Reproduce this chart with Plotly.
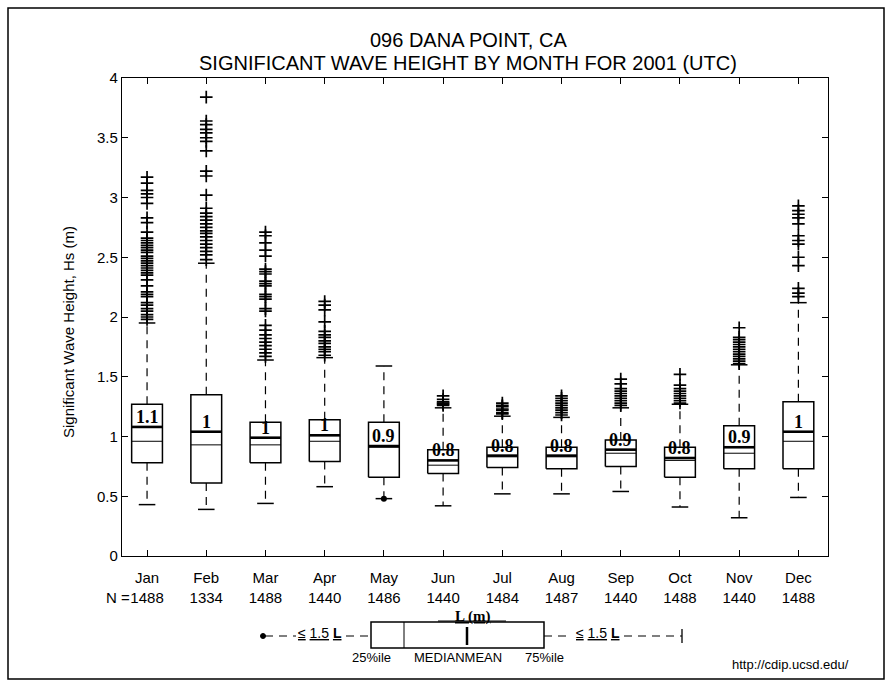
import plotly.graph_objects as go

# ---------------- data ----------------
months = ["Jan", "Feb", "Mar", "Apr", "May", "Jun", "Jul", "Aug", "Sep", "Oct", "Nov", "Dec"]
n_obs = [1488, 1334, 1488, 1440, 1486, 1440, 1484, 1487, 1440, 1488, 1440, 1488]
q1 = [0.78, 0.61, 0.78, 0.79, 0.66, 0.69, 0.74, 0.73, 0.75, 0.66, 0.73, 0.73]
median = [0.96, 0.93, 0.93, 0.96, 0.91, 0.76, 0.83, 0.83, 0.86, 0.80, 0.86, 0.96]
q3 = [1.27, 1.35, 1.12, 1.14, 1.12, 0.89, 0.91, 0.91, 0.97, 0.91, 1.09, 1.29]
mean = [1.08, 1.04, 0.99, 1.01, 0.92, 0.80, 0.84, 0.84, 0.89, 0.82, 0.91, 1.04]
lower_whisker = [0.43, 0.39, 0.44, 0.58, 0.48, 0.42, 0.52, 0.52, 0.54, 0.41, 0.32, 0.49]
upper_whisker = [1.95, 2.45, 1.64, 1.66, 1.59, 1.24, 1.17, 1.16, 1.24, 1.27, 1.60, 2.12]
low_point = [None, None, None, None, 0.48, None, None, None, None, None, None, None]

outliers_jan = [3.17, 3.12, 3.06, 3.03, 3.00, 2.95, 2.83, 2.79, 2.71, 2.66, 2.64, 2.62, 2.60, 2.58,
                2.56, 2.54, 2.51, 2.49, 2.47, 2.45, 2.43, 2.41, 2.39, 2.37, 2.35, 2.31, 2.26, 2.21,
                2.19, 2.17, 2.12, 2.10, 2.07, 2.05, 2.02, 2.00, 1.98]
outliers_feb = [3.84, 3.64, 3.61, 3.57, 3.54, 3.50, 3.47, 3.39, 3.22, 3.18, 3.02, 2.91, 2.87, 2.84,
                2.81, 2.78, 2.75, 2.72, 2.70, 2.67, 2.64, 2.61, 2.58, 2.55, 2.52, 2.48]
outliers_mar = [2.71, 2.68, 2.62, 2.56, 2.51, 2.40, 2.38, 2.36, 2.30, 2.28, 2.26, 2.19, 2.17, 2.15,
                2.07, 2.05, 1.93, 1.89, 1.85, 1.82, 1.79, 1.76, 1.73, 1.70, 1.67]
outliers_apr = [2.13, 2.10, 2.06, 1.96, 1.88, 1.85, 1.83, 1.80, 1.78, 1.75, 1.73, 1.71, 1.68]
outliers_may = []
outliers_jun = [1.34, 1.31, 1.29, 1.28, 1.27, 1.26]
outliers_jul = [1.28, 1.26, 1.25, 1.23, 1.22, 1.20, 1.19]
outliers_aug = [1.34, 1.32, 1.30, 1.28, 1.26, 1.24, 1.22, 1.20, 1.18]
outliers_sep = [1.48, 1.44, 1.40, 1.38, 1.36, 1.34, 1.32, 1.30, 1.28, 1.26]
outliers_oct = [1.52, 1.43, 1.40, 1.38, 1.36, 1.34, 1.32, 1.30, 1.28]
outliers_nov = [1.91, 1.83, 1.81, 1.79, 1.77, 1.75, 1.73, 1.71, 1.69, 1.67, 1.65, 1.63, 1.61]
outliers_dec = [2.93, 2.89, 2.86, 2.83, 2.78, 2.68, 2.64, 2.61, 2.50, 2.43, 2.24, 2.20, 2.17]
outliers = [outliers_jan, outliers_feb, outliers_mar, outliers_apr, outliers_may, outliers_jun,
            outliers_jul, outliers_aug, outliers_sep, outliers_oct, outliers_nov, outliers_dec]

title_line1 = "096 DANA POINT, CA"
title_line2 = "SIGNIFICANT WAVE HEIGHT BY MONTH FOR 2001 (UTC)"
y_title = "Significant Wave Height, Hs (m)"
url_text = "http://cdip.ucsd.edu/"

# ---------------- geometry / style ----------------
W, H = 892, 685
ML, MR, MT, MB = 122, 64, 78, 129
PW, PH = W - ML - MR, H - MT - MB
BOX_HALF = 0.26
CAP_HALF = 0.14
SANS = "Liberation Sans, Arial, sans-serif"
SERIF = "Liberation Serif, Times New Roman, serif"


def PX(x):
    return (x - ML) / PW


def PY(y):
    return (H - MB - y) / PH


xpos = list(range(1, len(months) + 1))

# build line paths from the data arrays
bx, by, mdx, mdy, mnx, mny, wx, wy, cx, cy = [], [], [], [], [], [], [], [], [], []
for i, x in enumerate(xpos):
    bx += [x - BOX_HALF, x + BOX_HALF, x + BOX_HALF, x - BOX_HALF, x - BOX_HALF, None]
    by += [q1[i], q1[i], q3[i], q3[i], q1[i], None]
    mdx += [x - BOX_HALF, x + BOX_HALF, None]
    mdy += [median[i], median[i], None]
    mnx += [x - BOX_HALF, x + BOX_HALF, None]
    mny += [mean[i], mean[i], None]
    wx += [x, x, None, x, x, None]
    wy += [q3[i], upper_whisker[i], None, q1[i], lower_whisker[i], None]
    cx += [x - CAP_HALF, x + CAP_HALF, None, x - CAP_HALF, x + CAP_HALF, None]
    cy += [upper_whisker[i], upper_whisker[i], None, lower_whisker[i], lower_whisker[i], None]

ox, oy = [], []
for i, vals in enumerate(outliers):
    ox += [xpos[i]] * len(vals)
    oy += vals

fig = go.Figure()
fig.add_trace(go.Scatter(x=wx, y=wy, mode="lines", line=dict(color="black", width=1.2, dash="8px,6px"),
                         hoverinfo="skip", showlegend=False))
fig.add_trace(go.Scatter(x=cx, y=cy, mode="lines", line=dict(color="black", width=1.5),
                         hoverinfo="skip", showlegend=False))
fig.add_trace(go.Scatter(x=bx, y=by, mode="lines", line=dict(color="black", width=1.5),
                         hoverinfo="skip", showlegend=False))
fig.add_trace(go.Scatter(x=mdx, y=mdy, mode="lines", line=dict(color="black", width=1),
                         hoverinfo="skip", showlegend=False))
fig.add_trace(go.Scatter(x=mnx, y=mny, mode="lines", line=dict(color="black", width=2.6),
                         hoverinfo="skip", showlegend=False))
fig.add_trace(go.Scatter(x=ox, y=oy, mode="markers",
                         marker=dict(symbol="cross-thin", size=9, line=dict(color="black", width=1.7)),
                         hoverinfo="skip", showlegend=False))
fig.add_trace(go.Scatter(x=xpos, y=low_point, mode="markers",
                         marker=dict(symbol="circle", size=6, color="black"),
                         hoverinfo="skip", showlegend=False))

annotations = []
# mean labels
for i, x in enumerate(xpos):
    lab = f"{mean[i]:.1f}"
    if lab.endswith(".0"):
        lab = lab[:-2]
    annotations.append(dict(x=x, y=mean[i], xref="x", yref="y", text=f"<b>{lab}</b>", showarrow=False,
                            xanchor="center", yanchor="bottom", yshift=-2,
                            font=dict(family=SERIF, size=18, color="black")))
# "N =" prefix
annotations.append(dict(x=PX(132), y=PY(597), xref="paper", yref="paper", text="N =", showarrow=False,
                        xanchor="right", yanchor="middle", font=dict(family=SANS, size=15, color="black")))
# titles
annotations.append(dict(x=PX(468), y=PY(40), xref="paper", yref="paper", text=title_line1, showarrow=False,
                        xanchor="center", yanchor="middle", font=dict(family=SANS, size=20, color="black")))
annotations.append(dict(x=PX(468), y=PY(63), xref="paper", yref="paper", text=title_line2, showarrow=False,
                        xanchor="center", yanchor="middle", font=dict(family=SANS, size=20, color="black")))
# y-axis title
annotations.append(dict(x=PX(68), y=PY(332), xref="paper", yref="paper", text=y_title, showarrow=False,
                        textangle=-90, xanchor="center", yanchor="middle",
                        font=dict(family=SANS, size=15, color="black")))
# schematic key texts
annotations += [
    dict(x=PX(472), y=PY(616), text="<b><u>L (m)</u></b>", font=dict(family=SERIF, size=15, color="black")),
    dict(x=PX(320), y=PY(633), text="<u>≤</u> <u>1.5</u> <u><b>L</b></u>", font=dict(family=SANS, size=14, color="black")),
    dict(x=PX(598), y=PY(633), text="<u>≤</u> <u>1.5</u> <u><b>L</b></u>", font=dict(family=SANS, size=14, color="black")),
    dict(x=PX(371), y=PY(657), text="25%ile", font=dict(family=SANS, size=13, color="black")),
    dict(x=PX(458), y=PY(657), text="MEDIANMEAN", font=dict(family=SANS, size=13, color="black")),
    dict(x=PX(544), y=PY(657), text="75%ile", font=dict(family=SANS, size=13, color="black")),
    dict(x=PX(790), y=PY(664), text=url_text, font=dict(family=SANS, size=13, color="black")),
]
for a in annotations[-7:]:
    a.update(xref="paper", yref="paper", showarrow=False, xanchor="center", yanchor="middle")

shapes = [
    # outer frame
    dict(type="rect", xref="paper", yref="paper", x0=PX(8), x1=PX(884), y0=PY(679), y1=PY(8),
         line=dict(color="black", width=1.5)),
    # key box
    dict(type="rect", xref="paper", yref="paper", x0=PX(371), x1=PX(544), y0=PY(648), y1=PY(622),
         line=dict(color="black", width=1.5)),
    dict(type="line", xref="paper", yref="paper", x0=PX(404), x1=PX(404), y0=PY(648), y1=PY(622),
         line=dict(color="black", width=1)),
    dict(type="line", xref="paper", yref="paper", x0=PX(467), x1=PX(467), y0=PY(645), y1=PY(627),
         line=dict(color="black", width=2.5)),
    dict(type="line", xref="paper", yref="paper", x0=PX(438), x1=PX(506), y0=PY(621), y1=PY(621),
         line=dict(color="black", width=1)),
    dict(type="line", xref="paper", yref="paper", x0=PX(682), x1=PX(682), y0=PY(643), y1=PY(629),
         line=dict(color="black", width=1.3)),
    dict(type="circle", xref="paper", yref="paper", x0=PX(260.5), x1=PX(265.5), y0=PY(638.5), y1=PY(633.5),
         fillcolor="black", line=dict(color="black", width=1)),
]
for (a, b) in [(265, 296), (346, 371), (544, 572), (624, 682)]:
    shapes.append(dict(type="line", xref="paper", yref="paper", x0=PX(a), x1=PX(b), y0=PY(636), y1=PY(636),
                       line=dict(color="black", width=1.2, dash="8px,6px")))

fig.update_layout(
    width=W, height=H,
    margin=dict(l=ML, r=MR, t=MT, b=MB),
    paper_bgcolor="white", plot_bgcolor="white",
    showlegend=False,
    annotations=annotations,
    shapes=shapes,
    font=dict(family=SANS, size=15, color="black"),
)
fig.update_xaxes(range=[0.577, 12.5], tickvals=xpos,
                 ticktext=[f"{m}<br>{n}" for m, n in zip(months, n_obs)],
                 ticks="inside", ticklen=6, tickcolor="black", mirror="ticks", showline=True,
                 linecolor="black", linewidth=1.2, showgrid=False, zeroline=False,
                 ticklabelstandoff=8,
                 tickfont=dict(family=SANS, size=15, color="black"))
fig.update_yaxes(range=[0, 4], tickvals=[0, 0.5, 1, 1.5, 2, 2.5, 3, 3.5, 4],
                 ticks="inside", ticklen=6, tickcolor="black", mirror="ticks", showline=True,
                 linecolor="black", linewidth=1.2, showgrid=False, zeroline=False,
                 tickfont=dict(family=SANS, size=15, color="black"))

fig.write_html("out.html", config={"displayModeBar": False},
               post_script="document.body.style.margin='0px';")
